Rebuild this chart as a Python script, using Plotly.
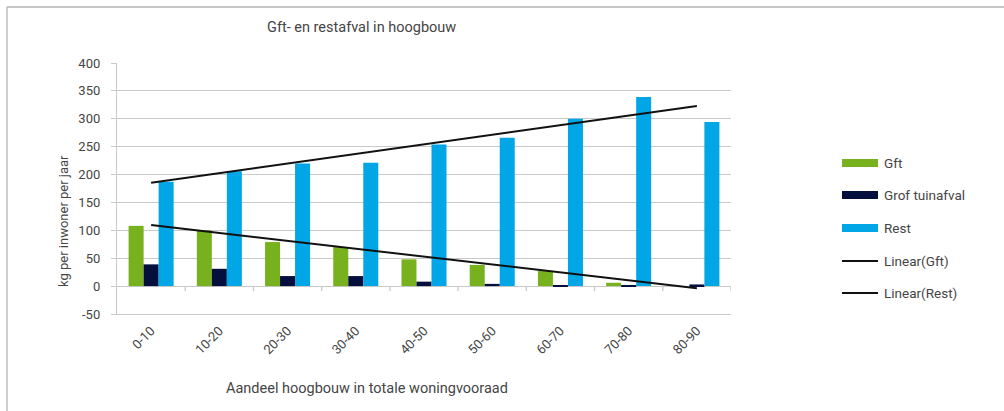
import numpy as np
import plotly.graph_objects as go

categories = ["0-10", "10-20", "20-30", "30-40", "40-50", "50-60", "60-70", "70-80", "80-90"]
gft = [108, 100, 79, 70, 48, 38, 27, 6, 0]
grof = [39, 31, 18, 18, 8, 4, 2, 2, 3]
rest = [187, 206, 220, 221, 254, 266, 300, 339, 294]
series_names = ["Gft", "Grof tuinafval", "Rest", "Linear(Gft)", "Linear(Rest)"]
y_ticks = [-50, 0, 50, 100, 150, 200, 250, 300, 350, 400]
y_tick_labels = ["-50", "0", "50", "100", "150", "200", "250", "300", "350", "400"]

title_text = "Gft- en restafval in hoogbouw"
ytitle_text = "kg per inwoner per jaar"
xtitle_text = "Aandeel hoogbouw in totale woningvooraad"

colors = ["#77B21E", "#040F3D", "#00A6E6"]
FONT = "Roboto"
TXT = "#454545"
GRID = "#C9C9C9"

W, H = 1004, 411
L, R, T, B = 117, 731, 63, 314


def px(x):
    return (x - L) / (R - L)


def py(y):
    return (B - y) / (B - T)


idx = np.arange(len(categories))
fit_gft = np.polyval(np.polyfit(idx, gft, 1), idx)
fit_rest = np.polyval(np.polyfit(idx, rest, 1), idx)

fig = go.Figure()
for vals, name, col in zip([gft, grof, rest], series_names[:3], colors):
    fig.add_trace(go.Bar(x=categories, y=vals, name=name, marker=dict(color=col, line=dict(width=0))))
for fit, name in zip([fit_gft, fit_rest], series_names[3:]):
    fig.add_trace(go.Scatter(x=categories, y=fit, mode="lines", name=name,
                             line=dict(color="#111111", width=2)))

shapes = []
# zero line ticks at category boundaries
for b in np.arange(len(categories)) + 0.5:
    shapes.append(dict(type="line", xref="x", yref="y", ysizemode="pixel", yanchor=0,
                       x0=b, x1=b, y0=0, y1=-5, line=dict(color=GRID, width=1.3)))
# outer frame (top and left)
shapes.append(dict(type="line", xref="paper", yref="paper", x0=px(7), x1=px(1010), y0=py(7), y1=py(7),
                   line=dict(color="#B5B5B5", width=1.3)))
shapes.append(dict(type="line", xref="paper", yref="paper", x0=px(7), x1=px(7), y0=py(7), y1=py(420),
                   line=dict(color="#B5B5B5", width=1.3)))

annotations = []
# custom legend
rows = [163, 195, 228, 261, 293]
for i, (name, yy) in enumerate(zip(series_names, rows)):
    if i < 3:
        shapes.append(dict(type="rect", xref="paper", yref="paper", x0=px(842), x1=px(878),
                           y0=py(yy + 4), y1=py(yy - 4), fillcolor=colors[i], line=dict(width=0)))
    else:
        shapes.append(dict(type="line", xref="paper", yref="paper", x0=px(842), x1=px(878),
                           y0=py(yy), y1=py(yy), line=dict(color="#111111", width=2)))
    annotations.append(dict(text=name, xref="paper", yref="paper", x=px(882), y=py(yy),
                            xanchor="left", yanchor="middle", showarrow=False,
                            font=dict(family=FONT, size=13.5, color=TXT)))

annotations.append(dict(text=title_text, xref="paper", yref="paper", x=px(361), y=py(28),
                        xanchor="center", yanchor="middle", showarrow=False,
                        font=dict(family=FONT, size=14.5, color=TXT)))
annotations.append(dict(text=ytitle_text, xref="paper", yref="paper", x=px(63), y=py(221),
                        xanchor="center", yanchor="middle", showarrow=False, textangle=-90,
                        font=dict(family=FONT, size=13, color=TXT)))
annotations.append(dict(text=xtitle_text, xref="paper", yref="paper", x=px(367), y=py(388),
                        xanchor="center", yanchor="middle", showarrow=False,
                        font=dict(family=FONT, size=14.5, color=TXT)))

fig.update_layout(
    width=W, height=H,
    margin=dict(l=L, r=W - R, t=T, b=H - B, pad=0),
    paper_bgcolor="white", plot_bgcolor="white",
    barmode="group", bargap=0.34, bargroupgap=0,
    showlegend=False,
    font=dict(family=FONT, size=13, color=TXT),
    shapes=shapes, annotations=annotations,
    xaxis=dict(type="category", showgrid=False, showline=True, linecolor=GRID, linewidth=1.3,
               ticks="", tickangle=-45, tickfont=dict(family=FONT, size=13, color=TXT),
               ticklabelstandoff=3,
               range=[-0.5, len(categories) - 0.5], fixedrange=True),
    yaxis=dict(range=[-50, 400], tickvals=y_ticks, ticktext=y_tick_labels, showgrid=True,
               gridcolor=GRID, gridwidth=1.3,
               showline=True, linecolor=GRID, linewidth=1.3, ticks="outside", ticklen=5,
               tickcolor=GRID, tickwidth=1.3, zeroline=True, zerolinecolor=GRID, zerolinewidth=1.3,
               ticklabelstandoff=8,
               tickfont=dict(family=FONT, size=13, color=TXT), fixedrange=True),
)

fig.write_html("out.html", config={"displayModeBar": False},
               post_script="document.body.style.margin='0';document.body.style.overflow='hidden';")
